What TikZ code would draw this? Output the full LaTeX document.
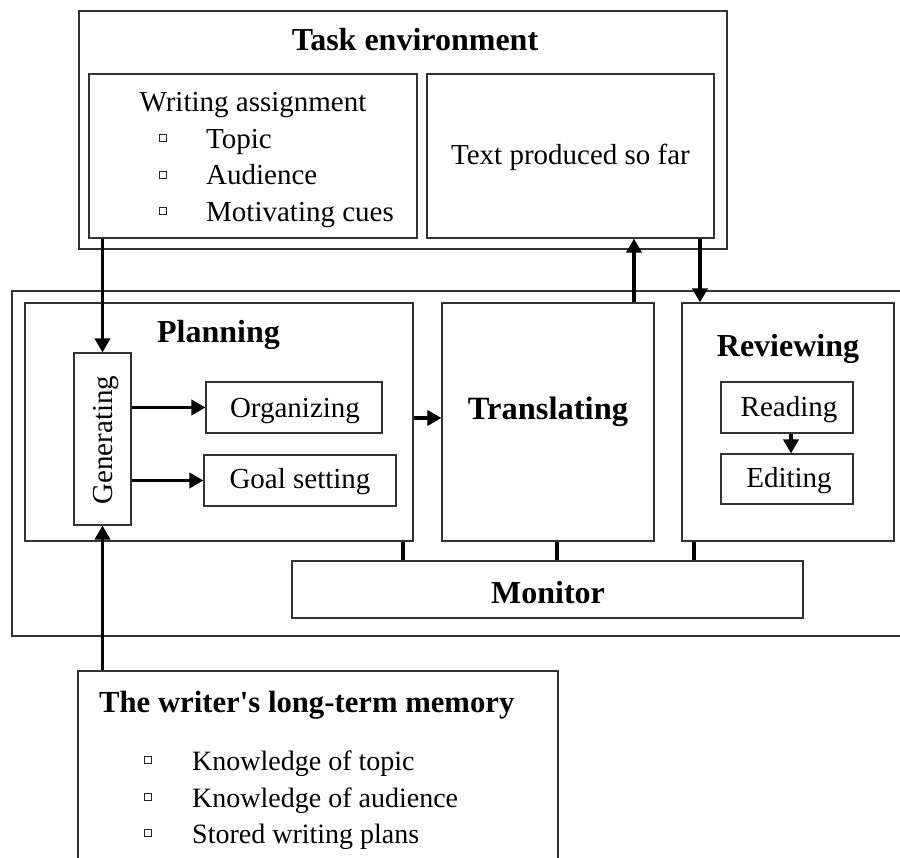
\documentclass[tikz,border=0pt]{standalone}
\usepackage{fontspec}
\setmainfont{Liberation Serif}[Ligatures=TeXOff]
\usetikzlibrary{arrows.meta}
\begin{document}
\begin{tikzpicture}[x=1pt,y=-1pt,
  box/.style={draw=black!80,line width=1.1pt,rectangle,inner sep=0pt},
  txt/.style={font=\fontsize{29}{34}\selectfont,inner sep=0pt},
  memtxt/.style={font=\fontsize{28}{33}\selectfont,inner sep=0pt},
  head/.style={font=\fontsize{32}{38}\selectfont\bfseries,inner sep=0pt},
  memhead/.style={font=\fontsize{30.7}{36}\selectfont\bfseries,inner sep=0pt},
  arr/.style={line width=3.5pt,-{Triangle[length=14pt,width=15pt]}},
  link/.style={line width=3.5pt},
  bsq/.style={draw=black!85,line width=0.8pt,rectangle,minimum size=7pt,inner sep=0pt}]
\useasboundingbox (0,0) rectangle (900,858);

% task environment
\node[box,minimum width=648pt,minimum height=238pt] (task) at (403,130) {};
\node[box,minimum width=328pt,minimum height=164pt] (assign) at (253,156) {};
\node[box,minimum width=287pt,minimum height=164pt] (sofar) at (570.5,156) {};
\node[head,anchor=base] (tasklbl) at (415,51) {Task environment};
\node[txt,anchor=base] (wa) at (253,112) {Writing assignment};
\foreach \t/\yy [count=\i] in {Topic/148.5,Audience/185,Motivating cues/221.5}{
  \node[bsq] (wab\i) at (163,\yy-10.5) {};
  \node[txt,anchor=base west] (wat\i) at (206,\yy) {\t};
}
\node[txt,anchor=base] (sofarlbl) at (570.5,165) {Text produced so far};

% writing process
\node[box,minimum width=898pt,minimum height=345pt] (proc) at (461,463.5) {};
\node[box,minimum width=388pt,minimum height=238pt] (plan) at (219,422) {};
\node[head,anchor=base] (planlbl) at (218.5,343) {Planning};
\node[box,minimum width=57pt,minimum height=172pt] (gen) at (102.5,439) {};
\node[txt,rotate=90] (genlbl) at (106,440) {Generating};
\node[box,minimum width=176pt,minimum height=51pt] (org) at (294,407.5) {};
\node[txt,anchor=base] (orglbl) at (295,418) {Organizing};
\node[box,minimum width=192pt,minimum height=51pt] (goal) at (300,480.5) {};
\node[txt,anchor=base] (goallbl) at (300,489) {Goal setting};

\node[box,minimum width=212pt,minimum height=238pt] (trans) at (548,422) {};
\node[head,font=\fontsize{32.5}{38}\selectfont\bfseries,anchor=base] (translbl) at (548,420) {Translating};

\node[box,minimum width=212pt,minimum height=238pt] (rev) at (788,422) {};
\node[head,anchor=base] (revlbl) at (788,357) {Reviewing};
\node[box,minimum width=132pt,minimum height=51pt] (read) at (787,407.5) {};
\node[txt,anchor=base] (readlbl) at (789,417) {Reading};
\node[box,minimum width=132pt,minimum height=50pt] (edit) at (787,479) {};
\node[txt,anchor=base] (editlbl) at (789,488) {Editing};

\node[box,minimum width=511pt,minimum height=57pt] (mon) at (547.5,589.5) {};
\node[head,anchor=base] (monlbl) at (548,603) {Monitor};

% long-term memory
\node[box,minimum width=480pt,minimum height=240pt] (mem) at (318,791) {};
\node[memhead,anchor=base west] (memlbl) at (99,712) {The writer's long-term memory};
\foreach \t/\yy [count=\i] in {Knowledge of topic/770,Knowledge of audience/807,Stored writing plans/843}{
  \node[bsq] (mb\i) at (148,\yy-10.5) {};
  \node[memtxt,anchor=base west] (mt\i) at (192,\yy) {\t};
}

% connectors
\coordinate (up) at (634,0);
\coordinate (dn) at (700,0);
\coordinate (m1) at (403,0);
\coordinate (m2) at (557,0);
\coordinate (m3) at (694,0);
\draw[arr] (assign.south -| gen.north) -- (gen.north);
\draw[arr] (mem.north -| gen.south) -- (gen.south);
\draw[arr] (gen.east |- org.west) -- (org.west);
\draw[arr] (gen.east |- goal.west) -- (goal.west);
\draw[arr] ([yshift=4pt]plan.east) -- ([yshift=4pt]plan.east -| trans.west);
\draw[arr] (trans.north -| up) -- (sofar.south -| up);
\draw[arr] (sofar.south -| dn) -- (rev.north -| dn);
\draw[arr] ([xshift=4pt]read.south) -- ([xshift=4pt]edit.north);
\draw[link] (plan.south -| m1) -- (mon.north -| m1);
\draw[link] (trans.south -| m2) -- (mon.north -| m2);
\draw[link] (rev.south -| m3) -- (mon.north -| m3);
\end{tikzpicture}
\end{document}
